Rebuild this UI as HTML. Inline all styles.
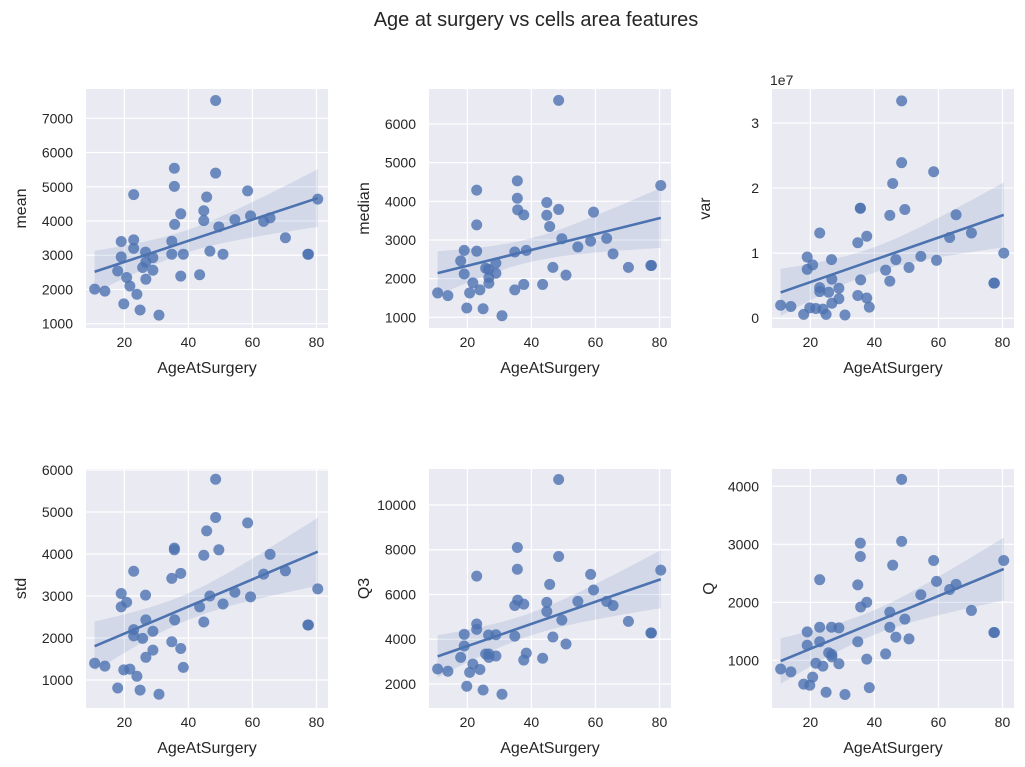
<!DOCTYPE html>
<html><head><meta charset="utf-8"><style>
body{margin:0;background:#fff;}
svg{display:block;font-family:"Liberation Sans","DejaVu Sans",sans-serif;}
</style></head><body>
<svg id="chart" width="1025" height="767">
<text x="536" y="26" text-anchor="middle" font-size="20" fill="#262626">Age at surgery vs cells area features</text>
</svg>
<script>
const ages=[10.7,13.9,17.9,19.0,19.0,19.8,20.7,21.7,22.9,22.9,22.9,23.9,24.9,25.7,26.6,26.7,26.7,28.9,28.9,30.8,34.8,34.8,35.6,35.6,35.7,37.6,37.6,38.4,43.5,44.8,44.8,45.7,46.7,48.5,48.5,49.5,50.8,54.5,58.5,59.4,63.5,65.5,70.3,77.3,77.5,80.4];
const meanVals=[2010,1950,2540,3400,2950,1580,2350,2100,4770,3450,3200,1860,1400,2640,3090,2800,2300,2930,2560,1250,3410,3030,5540,5010,3900,4210,2390,3030,2430,4300,4010,4700,3120,7520,5400,3830,3030,4040,4880,4150,3990,4090,3510,3030,3030,4640];
const medianVals=[1630,1560,2460,2730,2120,1240,1630,1890,4290,3390,2710,1710,1220,2270,2240,2030,1880,2400,2140,1040,2690,1710,4530,4080,3780,3650,1850,2730,1850,3970,3640,3350,2290,6610,3790,3030,2090,2820,2970,3720,3040,2640,2290,2340,2340,4410];
const varVals=[2.0e6,1.8e6,0.6e6,9.4e6,7.5e6,1.6e6,8.2e6,1.5e6,13.1e6,4.7e6,4.1e6,1.4e6,0.6e6,4.0e6,9.0e6,6.0e6,2.3e6,4.6e6,3.0e6,0.5e6,11.6e6,3.5e6,16.9e6,16.9e6,5.9e6,12.6e6,3.1e6,1.7e6,7.4e6,15.8e6,5.7e6,20.7e6,9.0e6,33.4e6,23.9e6,16.7e6,7.8e6,9.5e6,22.5e6,8.9e6,12.4e6,15.9e6,13.1e6,5.4e6,5.4e6,10.0e6];
const stdVals=[1400,1330,810,3060,2740,1240,2850,1260,3590,2200,2050,1090,760,1990,3020,2430,1540,2160,1710,660,3420,1910,4140,4100,2430,3540,1750,1300,2740,3970,2380,4550,3000,5780,4870,4100,2810,3090,4740,2980,3520,3990,3600,2310,2310,3170];
const q3Vals=[2670,2570,3190,4220,3700,1900,2520,2890,6820,4680,4440,2650,1730,3340,4190,3340,3190,4200,3250,1540,5510,4140,8100,7130,5750,5570,3070,3380,3150,5650,5240,6450,4100,11140,7700,4860,3790,5690,6900,6200,5690,5510,4800,4280,4280,7090];
const qVals=[850,800,590,1490,1260,570,710,950,2390,1570,1320,900,450,1130,1570,1100,1060,1560,940,410,2300,1320,3020,2790,1920,2000,1020,530,1110,1830,1570,2640,1400,4120,3050,1710,1370,2130,2720,2360,2220,2310,1860,1480,1480,2720];
const xTicks=[20,40,60,80];
const meanTicks=[1000,2000,3000,4000,5000,6000,7000];
const medianTicks=[1000,2000,3000,4000,5000,6000];
const varTicks=[0,1e7,2e7,3e7];
const varTickLabels=["0","1","2","3"];
const stdTicks=[1000,2000,3000,4000,5000,6000];
const q3Ticks=[2000,4000,6000,8000,10000];
const qTicks=[1000,2000,3000,4000];

const NS="http://www.w3.org/2000/svg";
const svg=document.getElementById('chart');
function mk(tag,attrs,parent){const e=document.createElementNS(NS,tag);for(const k in attrs)e.setAttribute(k,attrs[k]);(parent||svg).appendChild(e);return e;}

const panels=[
 {name:'mean',vals:meanVals,ticks:meanTicks,labels:null,x0:86,y0:89,ymin:874,ymax:7856},
 {name:'median',vals:medianVals,ticks:medianTicks,labels:null,x0:429,y0:89,ymin:723,ymax:6905},
 {name:'var',vals:varVals,ticks:varTicks,labels:varTickLabels,x0:772,y0:89,ymin:-0.15e7,ymax:3.522e7,offset:'1e7'},
 {name:'std',vals:stdVals,ticks:stdTicks,labels:null,x0:86,y0:469,ymin:333,ymax:6024},
 {name:'Q3',vals:q3Vals,ticks:q3Ticks,labels:null,x0:429,y0:469,ymin:927,ymax:11609},
 {name:'Q',vals:qVals,ticks:qTicks,labels:null,x0:772,y0:469,ymin:178,ymax:4298}
];
const W=242,H=239,XMIN=8,XMAX=83.6;
const color='#4C72B0';

panels.forEach(p=>{
 const g=mk('g',{});
 
 
 const sx=v=>p.x0+(v-XMIN)/(XMAX-XMIN)*W;
 const sy=v=>p.y0+H-(v-p.ymin)/(p.ymax-p.ymin)*H;
 const bg=mk('rect',{x:p.x0,y:p.y0,width:W,height:H,fill:'#EAEAF2'},g);
 
 
 xTicks.forEach(t=>{
  const l=mk('line',{x1:sx(t),x2:sx(t),y1:p.y0,y2:p.y0+H,stroke:'#fff','stroke-width':1.2},g);
  
  
  const tx=mk('text',{x:sx(t),y:p.y0+H+19,'text-anchor':'middle','font-size':14,fill:'#262626'},g);
  tx.textContent=t;
  
  
 });
 p.ticks.forEach((t,i)=>{
  const l=mk('line',{x1:p.x0,x2:p.x0+W,y1:sy(t),y2:sy(t),stroke:'#fff','stroke-width':1.2},g);
  
  
  const tx=mk('text',{x:p.x0-13,y:sy(t)+5,'text-anchor':'end','font-size':14,fill:'#262626'},g);
  tx.textContent=p.labels?p.labels[i]:t;
  
  
 });
 if(p.offset){
  const o=mk('text',{x:p.x0-2,y:p.y0-4,'font-size':14,fill:'#262626'},g);
  o.textContent=p.offset;
  
  
 }
 const xl=mk('text',{x:p.x0+W/2,y:p.y0+H+45,'text-anchor':'middle','font-size':16,fill:'#262626'},g);
 xl.textContent='AgeAtSurgery';
 
 
 const ylx=p.x0-(p.name==='var'?62:p.name==='Q'?58:60);
 const yl=mk('text',{x:ylx,y:p.y0+H/2,'text-anchor':'middle','font-size':16,fill:'#262626',transform:`rotate(-90 ${ylx} ${p.y0+H/2})`},g);
 yl.textContent=p.name;
 
 
 const n=ages.length;
 const xm=ages.reduce((a,b)=>a+b,0)/n, ym=p.vals.reduce((a,b)=>a+b,0)/n;
 let sxx=0,sxy=0;ages.forEach((x,i)=>{sxx+=(x-xm)**2;sxy+=(x-xm)*(p.vals[i]-ym);});
 const b=sxy/sxx,a=ym-b*xm;
 let sse=0;ages.forEach((x,i)=>{sse+=(p.vals[i]-a-b*x)**2;});
 const s=Math.sqrt(sse/(n-2)),tq=2.015;
 const xa=Math.min(...ages),xb=Math.max(...ages);
 const up=[],lo=[];
 for(let k=0;k<=40;k++){const x=xa+(xb-xa)*k/40;const yh=a+b*x;const se=tq*s*Math.sqrt(1/n+(x-xm)**2/sxx);up.push(sx(x).toFixed(1)+','+sy(yh+se).toFixed(1));lo.unshift(sx(x).toFixed(1)+','+sy(yh-se).toFixed(1));}
 const band=mk('polygon',{points:up.concat(lo).join(' '),fill:color,'fill-opacity':0.15},g);
 
 
 ages.forEach((x,i)=>{
  const c=mk('circle',{cx:sx(x),cy:sy(p.vals[i]),r:5.5,fill:color,'fill-opacity':0.8},g);
  
  
 });
 const rl=mk('line',{x1:sx(xa),y1:sy(a+b*xa),x2:sx(xb),y2:sy(a+b*xb),stroke:color,'stroke-width':2.6},g);
 
 
});
</script>
</body></html>
